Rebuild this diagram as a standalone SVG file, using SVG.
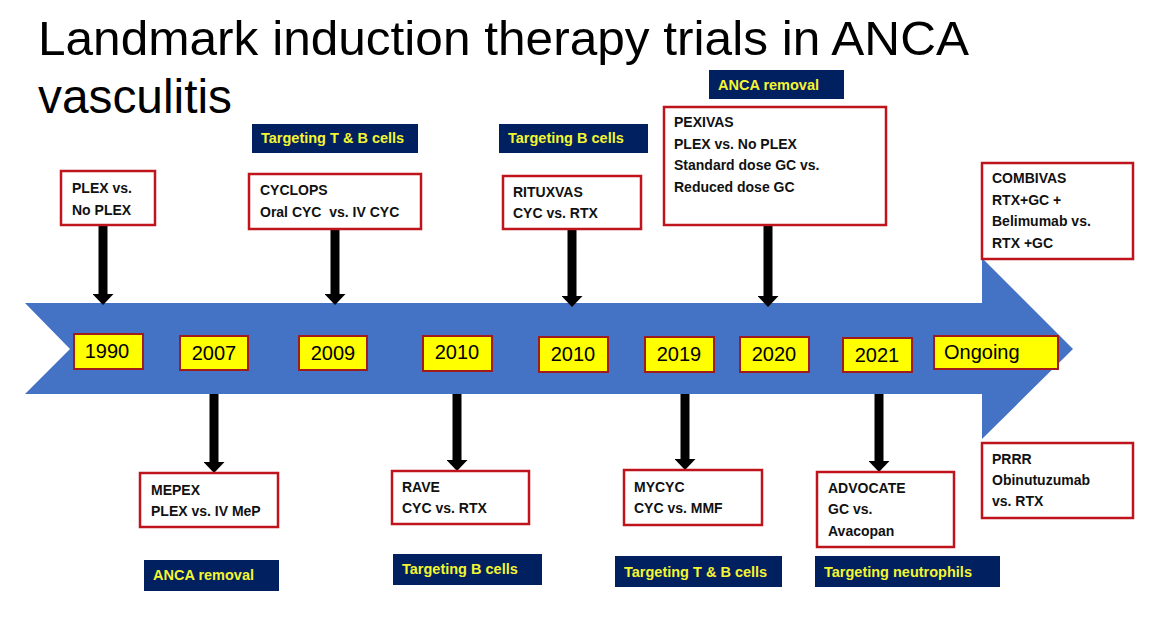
<svg xmlns="http://www.w3.org/2000/svg" width="1155" height="624" viewBox="0 0 1155 624">
  <style>
    .title { font-family: "Liberation Sans", Arial, sans-serif; font-size: 48px; fill: #000; }
    .box { fill: #fff; stroke: #C0141C; stroke-width: 2.5; }
    .lbl { font-family: "Liberation Sans", Arial, sans-serif; font-size: 14px; font-weight: bold; fill: #111; }
    .year { fill: #FFFF00; stroke: #A01C1C; stroke-width: 2; }
    .ytxt { font-family: "Liberation Sans", Arial, sans-serif; font-size: 20px; fill: #000; text-anchor: middle; }
    .ban { fill: #002060; }
    .btxt { font-family: "Liberation Sans", Arial, sans-serif; font-size: 14.5px; font-weight: bold; fill: #F5F532; }
    .conn { stroke: #000; stroke-width: 9; fill: none; marker-end: url(#ah); }
  </style>
  <defs>
    <marker id="ah" viewBox="0 0 11 21" refX="0" refY="10.5" markerWidth="11" markerHeight="21" markerUnits="userSpaceOnUse" orient="auto">
      <path d="M0,0 L11,10.5 L0,21 Z" fill="#000"/>
    </marker>
  </defs>
  <rect width="1155" height="624" fill="#fff"/>

  <g id="title">
    <text class="title" x="38" y="55" textLength="931" lengthAdjust="spacingAndGlyphs">Landmark induction therapy trials in ANCA</text>
    <text class="title" x="38" y="113" textLength="194" lengthAdjust="spacingAndGlyphs">vasculitis</text>
  </g>

  <g id="timeline-arrow">
    <polygon points="25,303 982,303 982,258 1073,349 982,439 982,394 25,394 70,349" fill="#4472C4"/>
  </g>

  <g id="connectors">
    <line class="conn" x1="103" y1="225" x2="103" y2="294"/>
    <line class="conn" x1="335" y1="229" x2="335" y2="294"/>
    <line class="conn" x1="572" y1="229" x2="572" y2="296"/>
    <line class="conn" x1="768" y1="225" x2="768" y2="296"/>
    <line class="conn" x1="214" y1="394" x2="214" y2="462"/>
    <line class="conn" x1="457" y1="394" x2="457" y2="460"/>
    <line class="conn" x1="685" y1="394" x2="685" y2="459"/>
    <line class="conn" x1="879" y1="394" x2="879" y2="461"/>
  </g>

  <g id="y1990"><rect class="year" x="74" y="334" width="69" height="35"/><text class="ytxt" x="107" y="358">1990</text></g>
  <g id="y2007"><rect class="year" x="180" y="336" width="68" height="34"/><text class="ytxt" x="214" y="360">2007</text></g>
  <g id="y2009"><rect class="year" x="299" y="336" width="68" height="34"/><text class="ytxt" x="333" y="360">2009</text></g>
  <g id="y2010a"><rect class="year" x="423" y="336" width="69" height="35"/><text class="ytxt" x="457" y="359">2010</text></g>
  <g id="y2010b"><rect class="year" x="539" y="337" width="69" height="35"/><text class="ytxt" x="573" y="361">2010</text></g>
  <g id="y2019"><rect class="year" x="645" y="337" width="69" height="35"/><text class="ytxt" x="679" y="361">2019</text></g>
  <g id="y2020"><rect class="year" x="740" y="337" width="69" height="35"/><text class="ytxt" x="774" y="361">2020</text></g>
  <g id="y2021"><rect class="year" x="843" y="338" width="69" height="34"/><text class="ytxt" x="877" y="362">2021</text></g>
  <g id="yongoing"><rect class="year" x="934" y="336" width="124" height="33"/><text class="ytxt" x="944" y="359" style="text-anchor:start">Ongoing</text></g>

  <g id="plex">
    <rect class="box" x="61" y="171" width="94" height="54"/>
    <text class="lbl" x="72" y="193">PLEX vs.<tspan x="72" y="215">No PLEX</tspan></text>
  </g>
  <g id="cyclops">
    <rect class="box" x="249" y="174" width="172" height="55"/>
    <text class="lbl" x="260" y="195" xml:space="preserve">CYCLOPS<tspan x="260" y="217">Oral CYC  vs. IV CYC</tspan></text>
  </g>
  <g id="rituxvas">
    <rect class="box" x="503" y="176" width="138" height="53"/>
    <text class="lbl" x="513" y="197">RITUXVAS<tspan x="513" y="218">CYC vs. RTX</tspan></text>
  </g>
  <g id="pexivas">
    <rect class="box" x="664" y="107" width="222" height="118"/>
    <text class="lbl" x="674" y="127">PEXIVAS<tspan x="674" y="149">PLEX vs. No PLEX</tspan><tspan x="674" y="170">Standard dose GC vs.</tspan><tspan x="674" y="192">Reduced dose GC</tspan></text>
  </g>
  <g id="combivas">
    <rect class="box" x="982" y="163" width="151" height="96"/>
    <text class="lbl" x="992" y="183">COMBIVAS<tspan x="992" y="205">RTX+GC +</tspan><tspan x="992" y="226">Belimumab vs.</tspan><tspan x="992" y="248">RTX +GC</tspan></text>
  </g>
  <g id="mepex">
    <rect class="box" x="140" y="473" width="138" height="54"/>
    <text class="lbl" x="151" y="495">MEPEX<tspan x="151" y="516">PLEX vs. IV MeP</tspan></text>
  </g>
  <g id="rave">
    <rect class="box" x="392" y="471" width="137" height="53"/>
    <text class="lbl" x="402" y="492">RAVE<tspan x="402" y="513">CYC vs. RTX</tspan></text>
  </g>
  <g id="mycyc">
    <rect class="box" x="624" y="470" width="138" height="55"/>
    <text class="lbl" x="634" y="492">MYCYC<tspan x="634" y="513">CYC vs. MMF</tspan></text>
  </g>
  <g id="advocate">
    <rect class="box" x="817" y="472" width="137" height="75"/>
    <text class="lbl" x="828" y="493">ADVOCATE<tspan x="828" y="514">GC vs.</tspan><tspan x="828" y="536">Avacopan</tspan></text>
  </g>
  <g id="prrr">
    <rect class="box" x="982" y="443" width="151" height="75"/>
    <text class="lbl" x="992" y="464">PRRR<tspan x="992" y="485">Obinutuzumab</tspan><tspan x="992" y="506">vs. RTX</tspan></text>
  </g>

  <g id="ban-tb-top"><rect class="ban" x="252" y="124" width="166" height="29"/><text class="btxt" x="261" y="143">Targeting T &amp; B cells</text></g>
  <g id="ban-b-top"><rect class="ban" x="499" y="124" width="149" height="29"/><text class="btxt" x="508" y="143">Targeting B cells</text></g>
  <g id="ban-anca-top"><rect class="ban" x="709" y="70" width="135" height="29"/><text class="btxt" x="718" y="90">ANCA removal</text></g>
  <g id="ban-anca-bot"><rect class="ban" x="144" y="560" width="135" height="31"/><text class="btxt" x="153" y="580">ANCA removal</text></g>
  <g id="ban-b-bot"><rect class="ban" x="393" y="554" width="149" height="31"/><text class="btxt" x="402" y="574">Targeting B cells</text></g>
  <g id="ban-tb-bot"><rect class="ban" x="615" y="556" width="167" height="31"/><text class="btxt" x="624" y="577">Targeting T &amp; B cells</text></g>
  <g id="ban-neut-bot"><rect class="ban" x="815" y="556" width="185" height="31"/><text class="btxt" x="824" y="577">Targeting neutrophils</text></g>
</svg>
